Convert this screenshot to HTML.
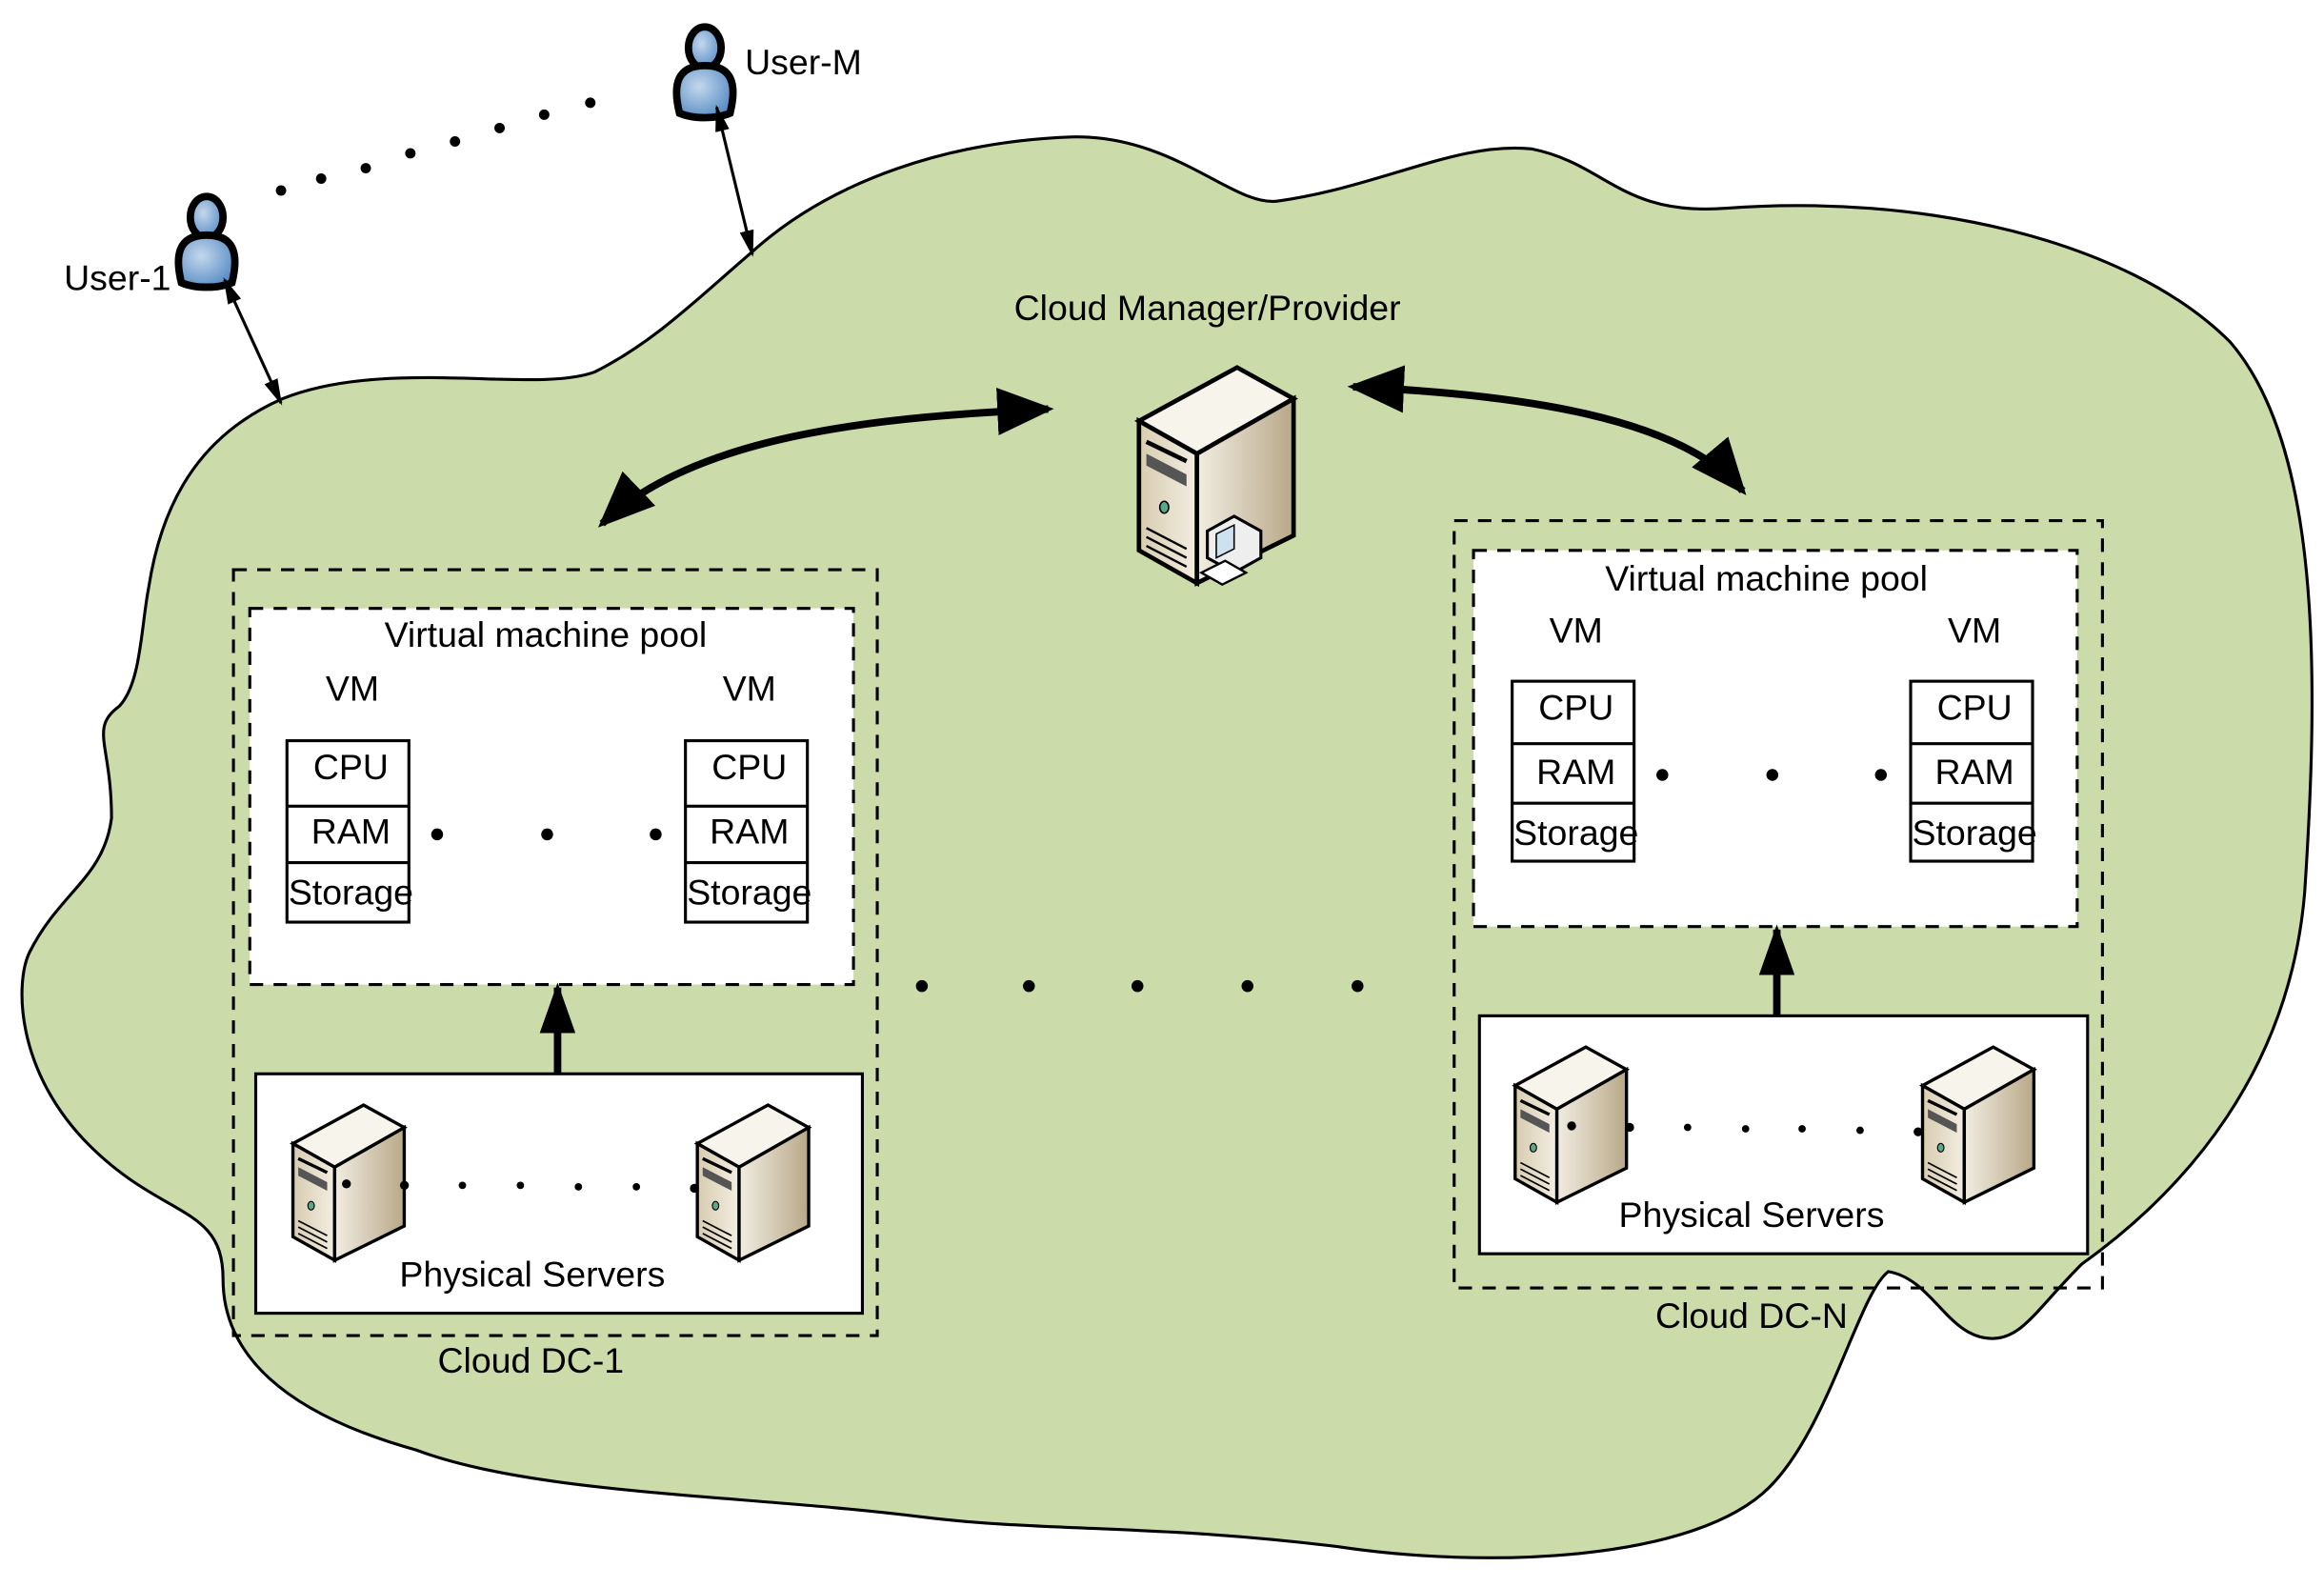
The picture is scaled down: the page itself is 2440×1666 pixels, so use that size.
<!DOCTYPE html>
<html><head><meta charset="utf-8"><style>
html,body{margin:0;padding:0;background:#fff;}
svg{display:block;}
text{font-family:"Liberation Sans",sans-serif;fill:#000;}
</style></head><body>
<svg width="2440" height="1666" viewBox="0 0 1563 1067" xmlns="http://www.w3.org/2000/svg">
<defs>
<linearGradient id="fr" x1="0" x2="1"><stop offset="0" stop-color="#d8ccb0"/><stop offset="1" stop-color="#f3eee2"/></linearGradient>
<linearGradient id="sd" x1="0" x2="1"><stop offset="0" stop-color="#f2ede2"/><stop offset="1" stop-color="#b8a888"/></linearGradient>
<radialGradient id="ug" cx="0.4" cy="0.4" r="0.7"><stop offset="0" stop-color="#c4d8ee"/><stop offset="1" stop-color="#4f86c0"/></radialGradient>
<marker id="ah" viewBox="0 0 10 10" refX="9" refY="5" markerWidth="18" markerHeight="12" orient="auto-start-reverse" markerUnits="userSpaceOnUse" preserveAspectRatio="none"><path d="M0,1 L10,5 L0,9 z" fill="#000"/></marker>
<marker id="ahb" viewBox="0 0 10 10" refX="9" refY="5" markerWidth="38" markerHeight="32" orient="auto-start-reverse" markerUnits="userSpaceOnUse" preserveAspectRatio="none"><path d="M0,0 L10,5 L0,10 z" fill="#000"/></marker>
<marker id="ahs" viewBox="0 0 10 10" refX="9" refY="5" markerWidth="34" markerHeight="24" orient="auto-start-reverse" markerUnits="userSpaceOnUse" preserveAspectRatio="none"><path d="M0,0 L10,5 L0,10 z" fill="#000"/></marker>
<g id="srv">
<path d="M0,36 L66,0 L104,21 L39,58 Z" fill="#f7f4ec" stroke="#000" stroke-width="3"/>
<path d="M0,36 L39,58 L39,145 L0,123 Z" fill="url(#fr)" stroke="#000" stroke-width="3"/>
<path d="M39,58 L104,21 L104,113 L39,145 Z" fill="url(#sd)" stroke="#000" stroke-width="3"/>
<path d="M5,50 L32,63" stroke="#000" stroke-width="3"/>
<path d="M5,58 L32,72 L32,80 L5,66 Z" fill="#555"/>
<ellipse cx="17" cy="94" rx="3" ry="4" fill="#5aa88a" stroke="#000"/>
<path d="M5,108 L32,122 M5,114 L32,128 M5,120 L32,134" stroke="#000" stroke-width="1.5"/>
</g>
<g id="usr">
<ellipse cx="0" cy="-14" rx="11" ry="14" fill="url(#ug)" stroke="#000" stroke-width="5"/>
<path d="M-17,30 C-22,10 -18,-2 0,-2 C18,-2 22,10 17,30 C8,34 -8,34 -17,30 Z" fill="url(#ug)" stroke="#000" stroke-width="5"/>
</g>
</defs>
<path d="M190,268 C260,240 360,265 400,250 C440,230 470,200 505,170 C560,120 640,95 720,92 C790,90 830,140 860,135 C930,125 980,95 1030,100 C1080,110 1090,145 1160,140 C1290,130 1430,160 1500,230 C1560,300 1560,450 1550,600 C1540,720 1470,800 1400,850 C1370,880 1360,900 1340,900 C1310,900 1300,860 1270,855 C1250,870 1230,960 1190,1000 C1140,1050 1000,1055 900,1040 C780,1025 700,1030 620,1020 C500,1005 360,1005 280,975 C190,950 150,910 150,860 C150,810 110,820 60,770 C10,720 10,660 20,640 C40,600 70,590 75,550 C75,500 60,490 80,475 C95,460 95,420 100,395 C110,330 140,290 190,268 Z" fill="#cbdba9" stroke="#000" stroke-width="2"/>
<use href="#usr" x="139" y="160"/>
<use href="#usr" x="474" y="46"/>
<text x="43" y="195" font-size="24">User-1</text>
<text x="501" y="50" font-size="24">User-M</text>
<g fill="#000"><circle cx="189" cy="128" r="3.5"/><circle cx="216" cy="120" r="3.5"/><circle cx="246" cy="113" r="3.5"/><circle cx="276" cy="103" r="3.5"/><circle cx="306" cy="95" r="3.5"/><circle cx="336" cy="86" r="3.5"/><circle cx="366" cy="77" r="3.5"/><circle cx="397" cy="69" r="3.5"/></g>
<line x1="151" y1="188" x2="189" y2="271" stroke="#000" stroke-width="2" marker-start="url(#ah)" marker-end="url(#ah)"/>
<line x1="482" y1="72" x2="506" y2="171" stroke="#000" stroke-width="2" marker-start="url(#ah)" marker-end="url(#ah)"/>
<text x="812" y="215" font-size="24" text-anchor="middle">Cloud Manager/Provider</text>
<use href="#srv" x="766" y="247"/>
<g transform="translate(808,345)"><path d="M4,12 L22,2 L40,12 L40,30 L22,40 L4,30 Z" fill="#eee" stroke="#000" stroke-width="2"/><path d="M10,14 L22,8 L22,24 L10,30Z" fill="#cfe0f0" stroke="#000"/><path d="M0,40 L14,48 L30,40 L16,32 Z" fill="#fff" stroke="#000" stroke-width="1.5"/></g>
<path d="M705,275 C600,280 470,290 405,352" fill="none" stroke="#000" stroke-width="5" marker-start="url(#ahb)" marker-end="url(#ahb)"/>
<path d="M910,260 C1020,265 1130,280 1172,330" fill="none" stroke="#000" stroke-width="5" marker-start="url(#ahb)" marker-end="url(#ahb)"/>
<!-- DC-1 -->
<rect x="157" y="383" width="433" height="515" fill="none" stroke="#000" stroke-width="2" stroke-dasharray="9,7"/>
<rect x="168" y="409" width="406" height="253" fill="#fff" stroke="#000" stroke-width="2" stroke-dasharray="9,7"/>
<text x="367" y="435" font-size="24" text-anchor="middle">Virtual machine pool</text>
<text x="237" y="471" font-size="24" text-anchor="middle">VM</text>
<text x="504" y="471" font-size="24" text-anchor="middle">VM</text>
<g fill="none" stroke="#000" stroke-width="2"><rect x="193" y="498" width="82" height="122"/><line x1="193" y1="542" x2="275" y2="542"/><line x1="193" y1="580" x2="275" y2="580"/>
<rect x="461" y="498" width="82" height="122"/><line x1="461" y1="542" x2="543" y2="542"/><line x1="461" y1="580" x2="543" y2="580"/></g>
<g font-size="24" text-anchor="middle"><text x="236" y="524">CPU</text><text x="236" y="567">RAM</text><text x="236" y="608">Storage</text>
<text x="504" y="524">CPU</text><text x="504" y="567">RAM</text><text x="504" y="608">Storage</text></g>
<g fill="#000"><circle cx="294" cy="561" r="4"/><circle cx="368" cy="561" r="4"/><circle cx="441" cy="561" r="4"/></g>
<rect x="172" y="722" width="408" height="161" fill="#fff" stroke="#000" stroke-width="2"/>
<line x1="375" y1="722" x2="375" y2="664" stroke="#000" stroke-width="5" marker-end="url(#ahs)"/>
<use href="#srv" transform="translate(197,743) scale(0.72)"/>
<use href="#srv" transform="translate(469,743) scale(0.72)"/>
<g fill="#000"><circle cx="233" cy="796" r="3"/><circle cx="272" cy="797" r="3"/><circle cx="311" cy="797" r="2.5"/><circle cx="350" cy="797" r="2.5"/><circle cx="389" cy="798" r="2.5"/><circle cx="428" cy="798" r="2.5"/><circle cx="467" cy="799" r="3"/></g>
<text x="358" y="865" font-size="24" text-anchor="middle">Physical Servers</text>
<text x="357" y="923" font-size="24" text-anchor="middle">Cloud DC-1</text>
<g fill="#000"><circle cx="620" cy="663" r="4"/><circle cx="692" cy="663" r="4"/><circle cx="765" cy="663" r="4"/><circle cx="839" cy="663" r="4"/><circle cx="913" cy="663" r="4"/></g>
<!-- DC-N -->
<rect x="978" y="350" width="436" height="516" fill="none" stroke="#000" stroke-width="2" stroke-dasharray="9,7"/>
<rect x="991" y="370" width="406" height="253" fill="#fff" stroke="#000" stroke-width="2" stroke-dasharray="9,7"/>
<text x="1188" y="397" font-size="24" text-anchor="middle">Virtual machine pool</text>
<text x="1060" y="432" font-size="24" text-anchor="middle">VM</text>
<text x="1328" y="432" font-size="24" text-anchor="middle">VM</text>
<g fill="none" stroke="#000" stroke-width="2"><rect x="1017" y="458" width="82" height="121"/><line x1="1017" y1="500" x2="1099" y2="500"/><line x1="1017" y1="540" x2="1099" y2="540"/>
<rect x="1285" y="458" width="82" height="121"/><line x1="1285" y1="500" x2="1367" y2="500"/><line x1="1285" y1="540" x2="1367" y2="540"/></g>
<g font-size="24" text-anchor="middle"><text x="1060" y="484">CPU</text><text x="1060" y="527">RAM</text><text x="1060" y="568">Storage</text>
<text x="1328" y="484">CPU</text><text x="1328" y="527">RAM</text><text x="1328" y="568">Storage</text></g>
<g fill="#000"><circle cx="1118" cy="521" r="4"/><circle cx="1192" cy="521" r="4"/><circle cx="1265" cy="521" r="4"/></g>
<rect x="995" y="683" width="409" height="160" fill="#fff" stroke="#000" stroke-width="2"/>
<line x1="1195" y1="683" x2="1195" y2="625" stroke="#000" stroke-width="5" marker-end="url(#ahs)"/>
<use href="#srv" transform="translate(1019,704) scale(0.72)"/>
<use href="#srv" transform="translate(1293,704) scale(0.72)"/>
<g fill="#000"><circle cx="1057" cy="757" r="3"/><circle cx="1096" cy="758" r="3"/><circle cx="1135" cy="758" r="2.5"/><circle cx="1174" cy="759" r="2.5"/><circle cx="1212" cy="759" r="2.5"/><circle cx="1251" cy="760" r="2.5"/><circle cx="1290" cy="761" r="3"/></g>
<text x="1178" y="825" font-size="24" text-anchor="middle">Physical Servers</text>
<text x="1178" y="893" font-size="24" text-anchor="middle">Cloud DC-N</text>
</svg>
</body></html>
